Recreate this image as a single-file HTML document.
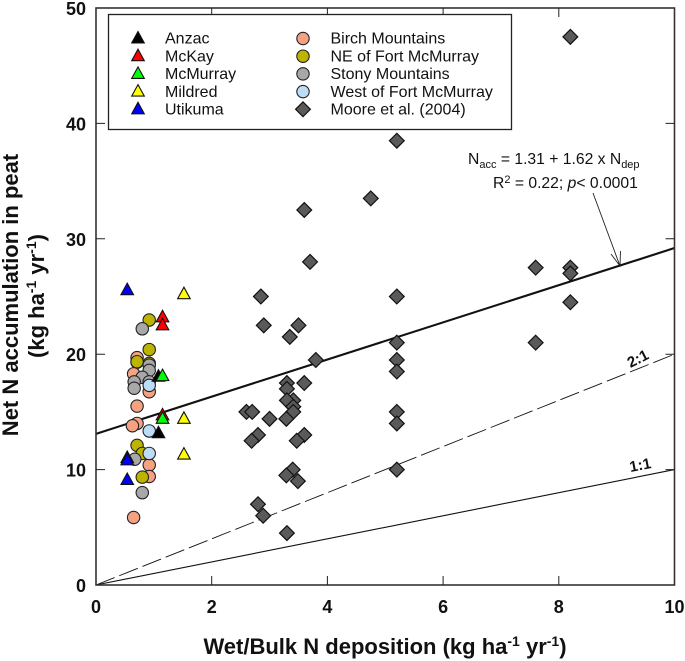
<!DOCTYPE html>
<html>
<head>
<meta charset="utf-8">
<style>
html,body{margin:0;padding:0;background:#fff;}
svg{display:block;}
text{font-family:"Liberation Sans",Arial,sans-serif;fill:#111;}
.tick{font-weight:bold;font-size:18px;}
.leg{font-size:16px;}
.title{font-weight:bold;font-size:22px;}
</style>
</head>
<body>
<svg id="chart" width="685" height="661" viewBox="0 0 685 661" xmlns="http://www.w3.org/2000/svg">
  <g id="lines"></g>
  <g id="marks"></g>
  <g id="frame"></g>

  <g>
    <text x="468" y="164" font-size="15.7">N<tspan font-size="11" dy="4">acc</tspan><tspan dy="-4"> = 1.31 + 1.62 x N</tspan><tspan font-size="11" dy="4">dep</tspan></text>
    <text x="493" y="188" font-size="15.7">R<tspan font-size="11" dy="-5">2</tspan><tspan dy="5"> = 0.22; </tspan><tspan font-style="italic">p</tspan>&lt; 0.0001</text>
    <path d="M593 193L620 266M611 254L620 266L620.500 251" fill="none" stroke="#222" stroke-width="0.9"/>
    <text class="tick" style="font-size:15px" transform="translate(630.500,368) rotate(-27)">2:1</text>
    <text class="tick" style="font-size:15px" transform="translate(630.500,472) rotate(-11)">1:1</text>
  </g>

  <g>
    <rect x="108.500" y="14.500" width="403" height="115" fill="#fff" stroke="#222" stroke-width="1.3"/>
    <g id="legend-marks"></g>
  </g>

  <text class="title" x="385" y="654" text-anchor="middle">Wet/Bulk N deposition (kg ha<tspan font-size="14" dy="-8">-1</tspan><tspan dy="8"> yr</tspan><tspan font-size="14" dy="-8">-1</tspan><tspan dy="8">)</tspan></text>
  <text class="title" transform="translate(18,295) rotate(-90)" text-anchor="middle">Net N accumulation in peat</text>
  <text class="title" transform="translate(44,296) rotate(-90)" text-anchor="middle">(kg ha<tspan font-size="14" dy="-8">-1</tspan><tspan dy="8"> yr</tspan><tspan font-size="14" dy="-8">-1</tspan><tspan dy="8">)</tspan></text>
</svg>
<script>
var xTicks = [0, 2, 4, 6, 8, 10];
var yTicks = [0, 10, 20, 30, 40, 50];
var regressionEnds = [13.1, 29.2];
var ratio2Ends = [0, 20];
var ratio1Ends = [0, 10];

var mooreX = [8.2,5.2,4.75,3.6,3.7,2.85,5.2,2.9,3.5,3.35,5.2,3.8,5.2,5.2,3.6,3.3,3.3,3.41,3.3,3.41,3.41,3.29,3,2.6,2.7,5.2,5.2,3.6,3.47,2.8,2.69,3.4,3.29,3.49,5.2,2.8,2.89,3.3,7.6,7.6,8.2,8.2,8.2];
var mooreY = [47.5,38.5,33.5,32.5,28,25,25,22.5,22.5,21.5,21,19.5,19.5,18.5,17.5,17.5,17,16,16,15.45,15,14.4,14.4,15,15,15,14,13,12.5,13,12.5,10,9.5,9,10,7,6,4.5,27.5,21,27.5,27,24.5];

var birchX = [0.71,0.71,0.65,0.92,0.71,0.71,0.63,0.92,0.92,0.65];
var birchY = [19.7,19.3,18.3,16.75,15.5,14,13.8,10.4,9.4,5.85];
var neX = [0.92,0.92,0.92,0.71,0.71,0.8,0.8];
var neY = [22.96,20.4,19.2,19.35,12.1,11.4,9.35];
var stonyX = [0.8,0.92,0.92,0.8,0.92,0.66,0.66,0.67,0.8];
var stonyY = [22.2,19.05,18.6,18,17.6,17.6,17.05,10.9,8];
var westX = [0.92,0.92,0.92];
var westY = [17.3,13.35,11.4];

var anzacX = [1.08,1.08];
var anzacY = [18.05,13.15];
var mckayX = [1.15,1.15,1.15];
var mckayY = [23.2,22.5,14.7];
var mcmurrayX = [1.15,1.15];
var mcmurrayY = [18.1,14.4];
var mildredX = [1.52,1.52,1.52];
var mildredY = [25.2,14.4,11.3];
var utikumaX = [0.54,0.54,0.54,0.54];
var utikumaY = [25.55,11,10.8,9.1];

var legendLeft = ["Anzac","McKay","McMurray","Mildred","Utikuma"];
var legendRight = ["Birch Mountains","NE of Fort McMurray","Stony Mountains","West of Fort McMurray","Moore et al. (2004)"];

var NS = "http://www.w3.org/2000/svg";
function sx(v){ return 96 + v * 57.85; }
function sy(v){ return 585 - v * 11.54; }
function mk(tag, parent, attrs){
  var el = document.createElementNS(NS, tag);
  for (var k in attrs) el.setAttribute(k, attrs[k]);
  parent.appendChild(el);
  return el;
}
var linesG = document.getElementById("lines");
var marksG = document.getElementById("marks");
var frameG = document.getElementById("frame");
var legG = document.getElementById("legend-marks");

function drawLine(ends, width, dash, name){
  var el = mk("line", linesG, {x1:sx(0), y1:sy(ends[0]), x2:sx(10), y2:sy(ends[1]), stroke:"#111", "stroke-width":width});
  if (dash) el.setAttribute("stroke-dasharray", dash);
  
  
}
drawLine(ratio1Ends, 1.1, "", "ratio-1-1-line");
drawLine(ratio2Ends, 0.9, "20 5", "ratio-2-1-line");
drawLine(regressionEnds, 2.1, "", "regression-line");

function diamond(p, x, y, name){
  var r = 7.4;
  var el = mk("polygon", p, {points:[x,y-r,x+r,y,x,y+r,x-r,y].join(" "), fill:"#5a5a5a", stroke:"#111", "stroke-width":1.2});
  
  
}
function circle(p, x, y, fill, name){
  var el = mk("circle", p, {cx:x, cy:y, r:6.2, fill:fill, stroke:"#222", "stroke-width":1.1});
  
  
}
function triangle(p, x, y, fill, name){
  var el = mk("polygon", p, {points:[x,y-7,x+6.3,y+4.5,x-6.3,y+4.5].join(" "), fill:fill, stroke:"#111", "stroke-width":1.1});
  
  
}
mooreX.forEach(function(v,i){ diamond(marksG, sx(v), sy(mooreY[i]), "moore-point"); });
birchX.forEach(function(v,i){ circle(marksG, sx(v), sy(birchY[i]), "#f5a283", "birch-mountains-point"); });
neX.forEach(function(v,i){ circle(marksG, sx(v), sy(neY[i]), "#bcb400", "ne-fort-mcmurray-point"); });
stonyX.forEach(function(v,i){ circle(marksG, sx(v), sy(stonyY[i]), "#a8a8a8", "stony-mountains-point"); });
westX.forEach(function(v,i){ circle(marksG, sx(v), sy(westY[i]), "#bddcf5", "west-fort-mcmurray-point"); });
anzacX.forEach(function(v,i){ triangle(marksG, sx(v), sy(anzacY[i]), "#000", "anzac-point"); });
mckayX.forEach(function(v,i){ triangle(marksG, sx(v), sy(mckayY[i]), "#f00", "mckay-point"); });
mcmurrayX.forEach(function(v,i){ triangle(marksG, sx(v), sy(mcmurrayY[i]), "#0f0", "mcmurray-point"); });
mildredX.forEach(function(v,i){ triangle(marksG, sx(v), sy(mildredY[i]), "#ff0", "mildred-point"); });
utikumaX.forEach(function(v,i){ triangle(marksG, sx(v), sy(utikumaY[i]), "#00f", "utikuma-point"); });

var border = mk("rect", frameG, {x:sx(0), y:sy(50), width:sx(10)-sx(0), height:sy(0)-sy(50), fill:"none", stroke:"#333", "stroke-width":1.6});



xTicks.forEach(function(v){
  var x = sx(v);
  if (v > 0 && v < 10) {
    var a = mk("path", frameG, {d:"M"+x+" "+sy(0)+"v-9M"+x+" "+sy(50)+"v9", stroke:"#222", "stroke-width":1, fill:"none"});
    
    
  }
  var t = mk("text", frameG, {x:x, y:sy(0)+28, "text-anchor":"middle", "class":"tick"});
  t.textContent = v;
  
  
});
yTicks.forEach(function(v){
  var y = sy(v);
  if (v > 0 && v < 50) {
    var a = mk("path", frameG, {d:"M"+sx(0)+" "+y+"h9M"+sx(10)+" "+y+"h-9", stroke:"#222", "stroke-width":1, fill:"none"});
    
    
  }
  var t = mk("text", frameG, {x:86, y:y+7, "text-anchor":"end", "class":"tick"});
  t.textContent = v;
  
  
});

var legendColorsLeft = ["#000","#f00","#0f0","#ff0","#00f"];
var legendColorsRight = ["#f5a283","#bcb400","#a8a8a8","#bddcf5"];
legendLeft.forEach(function(s,i){
  var y = 38.5 + i * 17.7;
  triangle(legG, 138, y, legendColorsLeft[i], "legend-symbol");
  var t = mk("text", legG, {x:165, y:y+5.2, "class":"leg"});
  t.textContent = s;
  
  
});
legendRight.forEach(function(s,i){
  var y = 38.5 + i * 17.7;
  if (i < 4) circle(legG, 303, y, legendColorsRight[i], "legend-symbol");
  else diamond(legG, 303, y, "legend-symbol");
  var t = mk("text", legG, {x:330.5, y:y+5.2, "class":"leg"});
  t.textContent = s;
  
  
});
</script>
</body>
</html>
